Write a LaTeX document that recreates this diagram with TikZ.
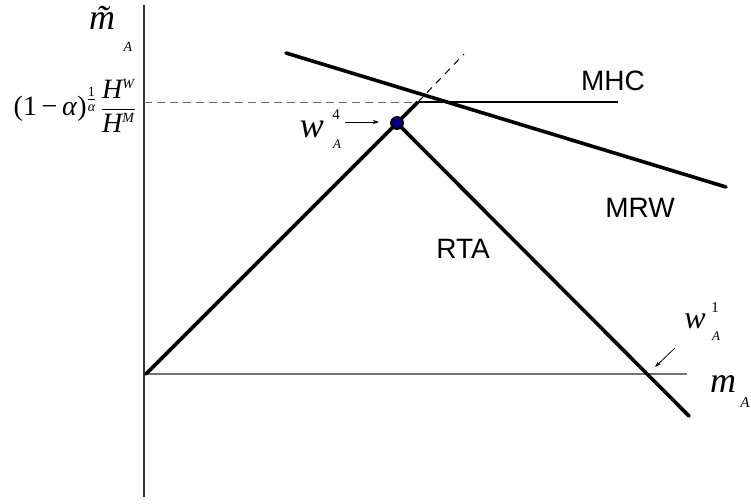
\documentclass[tikz,border=0pt]{standalone}
\usepackage{amsmath}
\usepackage{fontspec}
\setmainfont{Liberation Serif}
\newfontfamily\sansf{Liberation Sans}
\usetikzlibrary{arrows.meta}
\begin{document}
\begin{tikzpicture}[x=1pt,y=-1pt,
  axisv/.style={line width=1.3pt,black!80},
  axish/.style={line width=1.3pt,black!55},
  heavy/.style={line width=3.6pt,black,line cap=round},
  medium/.style={line width=2.3pt,black},
  guide/.style={line width=1pt,black!60,dash pattern=on 8pt off 5pt},
  guided/.style={line width=1pt,black,dash pattern=on 7pt off 6pt},
  pointer/.style={line width=0.8pt,-{Stealth[length=6pt,width=4pt]}},
  lbl/.style={font=\sansf\fontsize{28}{28}\selectfont,anchor=base,inner sep=0pt},
  big/.style={font=\fontsize{36}{36}\selectfont\itshape,anchor=base,inner sep=0pt},
  sub/.style={font=\fontsize{13}{13}\selectfont\itshape,anchor=base,inner sep=0pt},
  sup/.style={font=\fontsize{15}{15}\selectfont,anchor=base,inner sep=0pt}]
\useasboundingbox (0,0) rectangle (751,503);
% coordinates
\coordinate (ytop) at (144,5);
\coordinate (ybot) at (144,497);
\coordinate (O) at (146,374);
\coordinate (xend) at (687,374);
\coordinate (hstart) at (144,102);
\coordinate (Q) at (418,102);
\coordinate (D) at (464,54);
\coordinate (mhcend) at (618,102);
\coordinate (mrwa) at (286,53);
\coordinate (mrwb) at (726,187);
\coordinate (rtaend) at (689,416);
% axes
\draw[axisv] (ytop) -- (ybot);
\draw[axish] (O) -- (xend);
% guides
\draw[guide] (hstart) -- (Q);
\draw[guided] (Q) -- (D);
% curves
\node[circle,minimum size=12pt,inner sep=0pt] (P) at (397,123) {};
\draw[heavy] (O) -- (P.center) -- (rtaend);
\draw[heavy,line cap=butt] (P.center) -- (Q);
\draw[medium] (Q) -- (mhcend);
\draw[heavy] (mrwa) -- (mrwb);
\node[circle,draw=black,line width=1.8pt,fill=blue!55!black,minimum size=12pt,inner sep=0pt] at (P) {};
% labels
\node[lbl] (mhc) at (613,90) {MHC};
\node[lbl] (mrw) at (640,217) {MRW};
\node[lbl] (rta) at (463,258) {RTA};
% y label
\node[big] (mt) at (102,30) {\~{m}};
\node[sub,font=\fontsize{14}{14}\selectfont\itshape] (mtA) at (128,52) {A};
% formula
\node[anchor=east,inner sep=0pt,font=\fontsize{28}{32}\selectfont] (fml) at (136,106)
  {$\text{(1\,−\,\textit{α})}^{\frac{\text{1}}{\text{\itshape α}}}\,\dfrac{\text{\itshape H}^{\scriptscriptstyle\text{\itshape W}}}{\text{\itshape H}^{\scriptscriptstyle\text{\itshape M}}}$};
% x label
\node[big] (mx) at (723,392) {m};
\node[sub,font=\fontsize{15}{15}\selectfont\itshape] (mxA) at (745,407) {A};
% w4
\node[big] (w4) at (312,137) {w};
\node[sup] (w4s) at (336,119) {4};
\node[sub] (w4A) at (337,148) {A};
\coordinate (a4s) at (345,122);
\coordinate (a4e) at (379,122);
\draw[pointer] (a4s) -- (a4e);
% w1
\node[big,font=\fontsize{32}{32}\selectfont\itshape] (w1) at (695,328) {w};
\node[sup] (w1s) at (715,312) {1};
\node[sub] (w1A) at (716,340) {A};
\coordinate (a1s) at (675,348);
\coordinate (a1e) at (655,367);
\draw[pointer] (a1s) -- (a1e);
\end{tikzpicture}
\end{document}
